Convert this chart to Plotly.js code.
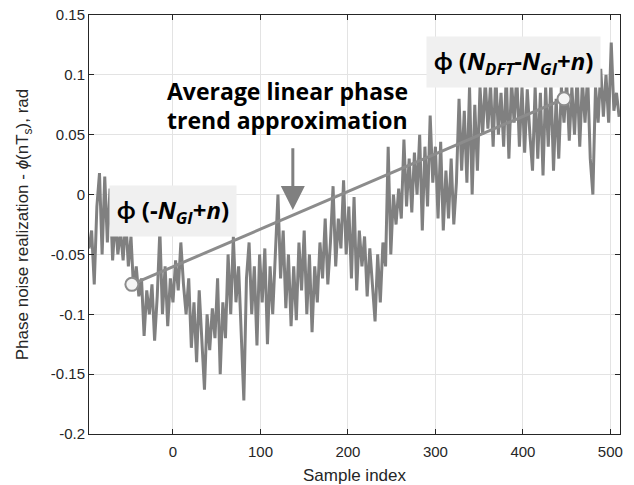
<!DOCTYPE html>
<html>
<head>
<meta charset="utf-8">
<script src="https://cdn.plot.ly/plotly-3.0.1.min.js"></script>
<style>html,body{margin:0;padding:0;background:#fff}#chart{width:634px;height:485px}</style>
</head>
<body>
<div id="chart"></div>
<script>
// sample index of first value and spacing between listed values
const startIndex = -96;
const indexStep = 3;
// phase noise realization (rad)
const phaseNoise = [
 -0.045,-0.03,-0.075,-0.01,0.018,-0.05,0.015,-0.04,0.005,-0.055,
 -0.02,-0.05,-0.03,-0.055,-0.02,-0.06,-0.035,-0.08,-0.06,-0.085,
 -0.07,-0.118,-0.08,-0.1,-0.075,-0.122,-0.085,-0.03,-0.1,-0.06,
 -0.11,-0.07,-0.09,-0.055,-0.08,-0.04,-0.075,-0.1,-0.07,-0.128,
 -0.09,-0.14,-0.08,-0.12,-0.163,-0.1,-0.13,-0.095,-0.12,-0.07,
 -0.15,-0.09,-0.12,-0.05,-0.1,-0.035,-0.09,-0.06,-0.11,-0.172,
 -0.07,-0.04,-0.1,-0.06,-0.126,-0.05,-0.09,-0.045,-0.125,-0.06,
 -0.1,-0.045,0.0,-0.07,-0.03,-0.095,-0.05,-0.11,-0.06,-0.105,
 -0.04,-0.08,-0.03,-0.1,-0.05,-0.115,-0.06,-0.09,-0.04,-0.07,
 -0.02,-0.075,-0.04,0.007,-0.06,-0.02,-0.045,0.012,-0.05,-0.01,
 -0.07,-0.002,-0.08,-0.03,-0.06,-0.035,-0.085,-0.045,-0.075,-0.106,
 -0.05,-0.09,-0.04,-0.06,0.04,-0.05,0.0,-0.025,0.005,-0.02,
 0.046,-0.01,0.03,-0.015,0.035,0.0,0.05,-0.03,0.04,-0.01,
 0.066,0.01,0.04,-0.02,0.044,-0.03,0.02,-0.02,0.03,-0.025,
 0.01,0.08,0.02,0.07,0.01,0.09,0.0,0.075,0.02,0.09,
 0.05,0.095,0.055,0.092,0.04,0.1,0.05,0.085,0.04,0.1,
 0.03,0.095,0.06,0.1,0.04,0.09,0.035,0.088,0.05,0.02,
 0.09,0.03,0.085,0.016,0.09,0.04,0.095,0.02,0.08,0.03,
 0.09,0.06,0.095,0.045,0.09,0.05,0.1,0.04,0.095,0.06,
 0.1,0.03,0.0,0.09,0.06,0.105,0.065,0.1,0.06,0.127,
 0.07,0.085,0.065
];
const sampleIndex = phaseNoise.map((_, i) => startIndex + i * indexStep);

// linear trend end points
const trendX = [-47, 447];
const trendY = [-0.075, 0.080];

const xTicks = [0, 100, 200, 300, 400, 500];
const yTicks = [-0.2, -0.15, -0.1, -0.05, 0, 0.05, 0.1, 0.15];
const yTickText = ['-0.2', '-0.15', '-0.1', '-0.05', '0', '0.05', '0.1', '0.15'];

const traces = [
  {x: sampleIndex, y: phaseNoise, type: 'scatter', mode: 'lines',
   line: {color: '#808080', width: 3}, hoverinfo: 'skip'},
  {x: trendX, y: trendY, type: 'scatter', mode: 'lines+markers',
   line: {color: '#8c8c8c', width: 3},
   marker: {size: 13, color: '#f4f4f4', line: {color: '#8c8c8c', width: 2}}}
];

const sans = '"Liberation Sans", Arial, sans-serif';
const tickFont = {family: sans, size: 15, color: '#262626'};
const titleFont = {family: sans, size: 17, color: '#262626'};
const boldFam = '"Open Sans", Lato, sans-serif';
const boldFont = {family: boldFam, size: 24, color: '#000'};

const layout = {
  width: 634, height: 485,
  margin: {l: 89, r: 14, t: 15, b: 51},
  paper_bgcolor: '#fff', plot_bgcolor: '#fff',
  showlegend: false,
  font: tickFont,
  xaxis: {
    range: [-96, 511], tickvals: xTicks, ticks: 'inside', ticklen: 5,
    tickcolor: '#262626', showline: true, linecolor: '#262626', linewidth: 1,
    mirror: 'ticks', showgrid: true, gridcolor: '#e3e3e3', zeroline: false,
    tickfont: tickFont, ticklabelstandoff: 4,
    title: {text: 'Sample index', font: titleFont, standoff: 12}
  },
  yaxis: {
    range: [-0.2, 0.15], tickvals: yTicks, ticktext: yTickText, ticks: 'inside', ticklen: 5,
    tickcolor: '#262626', showline: true, linecolor: '#262626', linewidth: 1,
    mirror: 'ticks', showgrid: true, gridcolor: '#e3e3e3', zeroline: false,
    tickfont: tickFont,
    title: {text: 'Phase noise realization - <i>ϕ</i>(nT<sub>s</sub>), rad', font: titleFont, standoff: 17}
  },
  annotations: [
    {x: 131, y: 0.0865, xref: 'x', yref: 'y', showarrow: false,
     text: '<b>Average linear phase</b>',
     font: {family: boldFam, size: 23, color: '#000'}},
    {x: 131, y: 0.0625, xref: 'x', yref: 'y', showarrow: false,
     text: '<b>trend approximation</b>',
     font: {family: boldFam, size: 23, color: '#000'}},
    {x: 137, y: -0.0128, ax: 137, ay: 0.04, xref: 'x', yref: 'y', axref: 'x', ayref: 'y',
     showarrow: true, arrowhead: 2, arrowsize: 1.6, arrowwidth: 3, arrowcolor: '#808080', text: ''},
    {x: -0.5, y: -0.014, xref: 'x', yref: 'y', showarrow: false,
     text: '<b>ϕ (-<i>N<sub>GI</sub></i>+<i>n</i>)</b>',
     font: boldFont, bgcolor: '#f0f0f0', borderpad: 7},
    {x: 389, y: 0.111, xref: 'x', yref: 'y', showarrow: false,
     text: '<b>ϕ (<i>N<sub>DFT</sub></i>-<i>N<sub>GI</sub></i>+<i>n</i>)</b>',
     font: boldFont, bgcolor: '#f0f0f0', borderpad: 7}
  ]
};

Plotly.newPlot('chart', traces, layout, {displayModeBar: false, staticPlot: true});
</script>
</body>
</html>
